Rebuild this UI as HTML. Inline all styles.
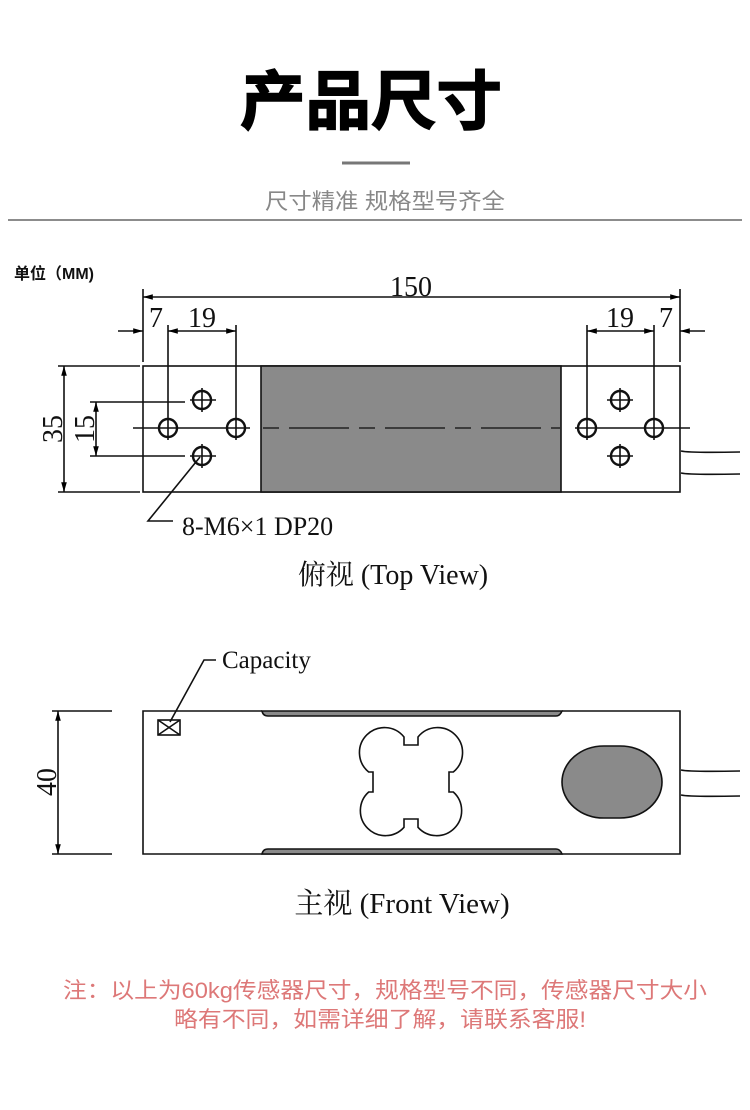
<!DOCTYPE html>
<html><head><meta charset="utf-8">
<style>
html,body{margin:0;padding:0;background:#fff;}
svg{display:block;}
.cjk{font-family:"Liberation Sans","Noto Sans CJK SC",sans-serif;}
.ser{font-family:"Liberation Serif","Noto Serif CJK SC",serif;}
</style></head><body>
<svg width="750" height="1110" viewBox="0 0 750 1110" xmlns="http://www.w3.org/2000/svg">
<defs>
<marker id="ar" viewBox="0 0 14 10" refX="14" refY="5" markerWidth="14" markerHeight="7" orient="auto-start-reverse" markerUnits="userSpaceOnUse"><path d="M0,1 L14,5 L0,9 z" fill="#000"/></marker>
</defs>
<!-- header -->
<text x="371" y="124" text-anchor="middle" class="cjk" font-size="64" font-weight="bold" fill="#000" stroke="#000" stroke-width="1.5" textLength="262" lengthAdjust="spacingAndGlyphs">产品尺寸</text>
<line x1="342" y1="163" x2="410" y2="163" stroke="#777" stroke-width="3"/>
<text x="385" y="209" text-anchor="middle" class="cjk" font-size="22" fill="#888" textLength="240" lengthAdjust="spacingAndGlyphs">尺寸精准 规格型号齐全</text>
<line x1="8" y1="220" x2="742" y2="220" stroke="#666" stroke-width="1.5"/>
<text x="14" y="279" class="cjk" font-size="16" font-weight="bold" fill="#111">单位（MM)</text>

<g stroke="#111" stroke-width="1.6" fill="none">
<!-- top view body -->
<rect x="143" y="366" width="537" height="126"/>
<rect x="261" y="366" width="300" height="126" fill="#8a8a8a"/>
<line x1="133" y1="428" x2="250" y2="428"/>
<line x1="263" y1="428" x2="560" y2="428" stroke="#222" stroke-dasharray="16,10,60,10"/>
<line x1="575" y1="428" x2="690" y2="428"/>
<g stroke-width="2.4">
<circle cx="168" cy="428" r="9"/><circle cx="236" cy="428" r="9"/>
<circle cx="202" cy="400" r="9"/><circle cx="202" cy="456" r="9"/>
<circle cx="587" cy="428" r="9"/><circle cx="654" cy="428" r="9"/>
<circle cx="620" cy="400" r="9"/><circle cx="620" cy="456" r="9"/>
</g>
<g stroke-width="1.6">
<path d="M168,416v24M236,416v24M202,388v24M202,444v24M190,400h26M190,456h26"/>
<path d="M587,416v24M654,416v24M620,388v24M620,444v24M607,400h26M607,456h26"/>
</g>
<path d="M681,451 Q690,453 740,452M681,473 Q690,475 740,474"/>
<!-- 150 dim -->
<line x1="143" y1="289" x2="143" y2="362"/>
<line x1="680" y1="289" x2="680" y2="362"/>
<line x1="143" y1="297" x2="680" y2="297" marker-start="url(#ar)" marker-end="url(#ar)"/>
<line x1="118" y1="331" x2="143" y2="331" marker-end="url(#ar)"/>
<line x1="168" y1="325" x2="168" y2="416"/>
<line x1="236" y1="325" x2="236" y2="416"/>
<line x1="168" y1="331" x2="236" y2="331" marker-start="url(#ar)" marker-end="url(#ar)"/>
<line x1="587" y1="325" x2="587" y2="416"/>
<line x1="654" y1="325" x2="654" y2="416"/>
<line x1="587" y1="331" x2="654" y2="331" marker-start="url(#ar)" marker-end="url(#ar)"/>
<line x1="705" y1="331" x2="680" y2="331" marker-end="url(#ar)"/>
<line x1="58" y1="366" x2="140" y2="366"/>
<line x1="58" y1="492" x2="140" y2="492"/>
<line x1="64" y1="366" x2="64" y2="492" marker-start="url(#ar)" marker-end="url(#ar)"/>
<line x1="90" y1="402" x2="185" y2="402"/>
<line x1="90" y1="456" x2="185" y2="456"/>
<line x1="96" y1="402" x2="96" y2="456" marker-start="url(#ar)" marker-end="url(#ar)"/>
<path d="M200,457 L148,521 H173"/>

<!-- front view -->
<path d="M262,711 H143 V854 H680 V711 H562"/>
<path d="M262,711 Q263,716 268,716 H556 Q560,716 562,711 Z" fill="#8a8a8a"/>
<path d="M262,854 Q263,849 268,849 H556 Q560,849 562,854 Z" fill="#8a8a8a"/>
<line x1="52" y1="711" x2="112" y2="711"/>
<line x1="52" y1="854" x2="112" y2="854"/>
<line x1="58" y1="711" x2="58" y2="854" marker-start="url(#ar)" marker-end="url(#ar)"/>
<rect x="158" y="720" width="22" height="15"/>
<path d="M158,720 L180,735 M180,720 L158,735"/>
<path d="M170,722 L204,660 H216"/>
<path d="M404,737 V745 H418 V737 A25,25 0 1 1 453.3,772 H449 V792 H453.3 A25,25 0 1 1 418,827.3 V819 H404 V827.3 A25,25 0 1 1 368.7,792 H373 V772 H368.7 A25,25 0 1 1 404,737 Z"/>
<rect x="562" y="746" width="100" height="72" rx="42" ry="36" fill="#8a8a8a"/>
<path d="M681,770 Q690,772 740,771M681,795 Q690,797 740,796"/>
</g>

<g class="ser" fill="#111">
<text x="411" y="296" text-anchor="middle" font-size="28">150</text>
<text x="156" y="327" text-anchor="middle" font-size="28">7</text>
<text x="202" y="327" text-anchor="middle" font-size="28">19</text>
<text x="620" y="327" text-anchor="middle" font-size="28">19</text>
<text x="666" y="327" text-anchor="middle" font-size="28">7</text>
<text transform="translate(62,429) rotate(-90)" text-anchor="middle" font-size="28">35</text>
<text transform="translate(94,429) rotate(-90)" text-anchor="middle" font-size="28">15</text>
<text transform="translate(56,782) rotate(-90)" text-anchor="middle" font-size="28">40</text>
<text x="182" y="535" font-size="26">8-M6×1 DP20</text>
<text x="393" y="584" text-anchor="middle" font-size="28">俯视 (Top View)</text>
<text x="222" y="668" font-size="25">Capacity</text>
<text x="402" y="913" text-anchor="middle" font-size="29">主视 (Front View)</text>
</g>

<g class="cjk" fill="#dd7878" font-size="22">
<text x="63" y="998" textLength="644" lengthAdjust="spacingAndGlyphs">注：以上为60kg传感器尺寸，规格型号不同，传感器尺寸大小</text>
<text x="174" y="1027" textLength="412" lengthAdjust="spacingAndGlyphs">略有不同，如需详细了解，请联系客服!</text>
</g>
</svg>
</body></html>
